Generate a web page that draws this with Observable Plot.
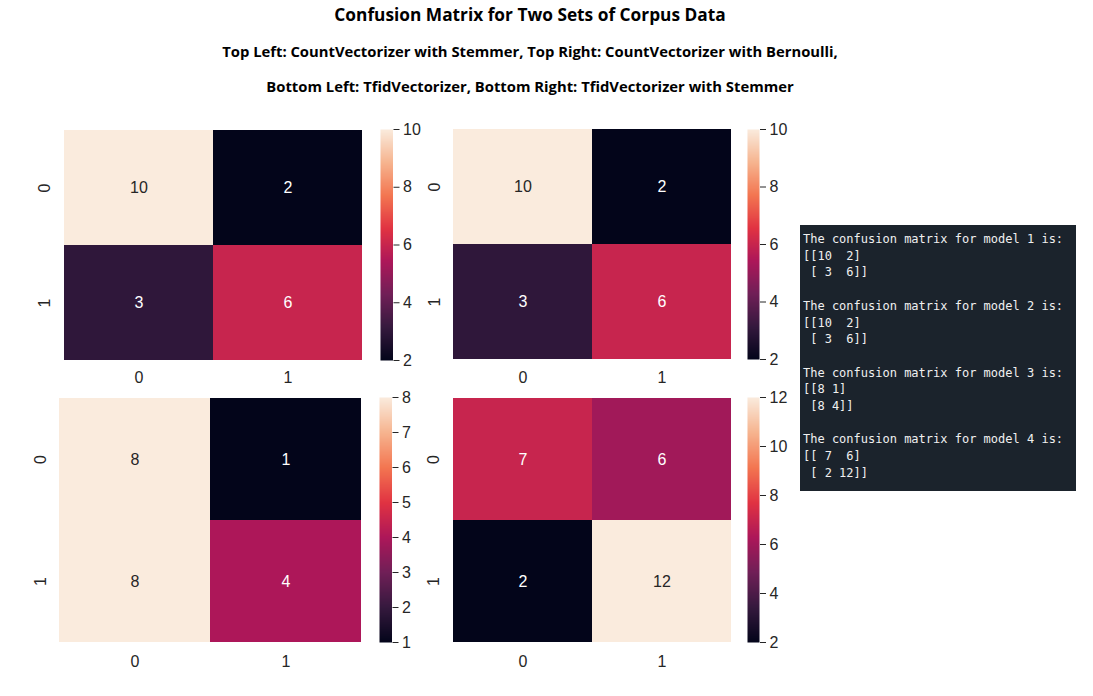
<!DOCTYPE html>
<html><head><meta charset="utf-8">
<script src="https://cdn.jsdelivr.net/npm/d3@7"></script>
<script src="https://cdn.jsdelivr.net/npm/@observablehq/plot@0.6"></script>
<style>
body{margin:0;background:#fff;}
#root{position:relative;width:1093px;height:696px;overflow:hidden;background:#fff;}
.abs{position:absolute;}
.ttl{position:absolute;left:0;width:1060px;text-align:center;font-family:"Open Sans",Lato,sans-serif;font-weight:bold;color:#000;white-space:nowrap;font-variant-ligatures:none;}
#console{position:absolute;left:800px;top:225px;width:276px;height:266px;background:#1b232c;color:#f0f0f0;font-family:"DejaVu Sans Mono",monospace;font-size:12px;line-height:16.7px;white-space:pre;padding:6px 0 0 3px;box-sizing:border-box;}
</style></head><body><div id="root"></div>
<script>
// ---- data ----
const titleText = "Confusion Matrix for Two Sets of Corpus Data";
const subtitleLines = [
  "Top Left: CountVectorizer with Stemmer, Top Right: CountVectorizer with Bernoulli,",
  "Bottom Left: TfidVectorizer, Bottom Right: TfidVectorizer with Stemmer"
];
const rowLabels = ["0", "1"];
const colLabels = ["0", "1"];
const model1 = [[10, 2], [3, 6]];
const model2 = [[10, 2], [3, 6]];
const model3 = [[8, 1], [8, 4]];
const model4 = [[7, 6], [2, 12]];
const cbarTicks1 = [2, 4, 6, 8, 10];
const cbarTicks2 = [2, 4, 6, 8, 10];
const cbarTicks3 = [1, 2, 3, 4, 5, 6, 7, 8];
const cbarTicks4 = [2, 4, 6, 8, 10, 12];
const consoleLabel = n => `The confusion matrix for model ${n} is:`;
// rocket colormap anchor colours
const rocketStops = ["#03051a", "#35193e", "#701f57", "#ad1759", "#e13342", "#f37651", "#f6b48f", "#faebdd"];

// ---- helpers ----
const rocket = d3.piecewise(d3.interpolateRgb, rocketStops);
function luminance(c) {
  const r = d3.rgb(c);
  const f = v => { v /= 255; return v <= 0.03928 ? v / 12.92 : Math.pow((v + 0.055) / 1.055, 2.4); };
  return 0.2126 * f(r.r) + 0.7152 * f(r.g) + 0.0722 * f(r.b);
}
const root = document.getElementById("root");
function place(el, left, top) {
  el.classList.add("abs");
  el.style.left = left + "px";
  el.style.top = top + "px";
  root.appendChild(el);
}
const tickFont = "Liberation Sans, Arial, sans-serif";

function panel(matrix, ticks, heat, cb, xPad) {
  const cells = [];
  matrix.forEach((row, i) => row.forEach((v, j) => cells.push({row: rowLabels[i], col: colLabels[j], value: v})));
  const [lo, hi] = d3.extent(cells, d => d.value);
  const color = {type: "linear", domain: [lo, hi], interpolate: rocket};
  const sc = d3.scaleSequential(rocket).domain([lo, hi]);
  const light = cells.filter(d => luminance(sc(d.value)) > 0.408);
  const dark = cells.filter(d => luminance(sc(d.value)) <= 0.408);
  const ml = 40, mb = 40;
  const w = heat.x2 - heat.x1, h = heat.y2 - heat.y1;
  const hp = Plot.plot({
    width: w + ml, height: h + mb,
    marginLeft: ml, marginBottom: mb, marginTop: 0, marginRight: 0,
    x: {domain: colLabels, padding: 0, label: null},
    y: {domain: rowLabels, padding: 0, label: null},
    color,
    style: {fontFamily: tickFont, fontSize: "16px", color: "#262626", background: "transparent", overflow: "visible"},
    marks: [
      Plot.cell(cells, {x: "col", y: "row", fill: "value", inset: 0}),
      Plot.text(light, {x: "col", y: "row", text: d => String(d.value), fill: "#262626", fontSize: 16}),
      Plot.text(dark, {x: "col", y: "row", text: d => String(d.value), fill: "#ffffff", fontSize: 16}),
      Plot.axisX({tickSize: 0, tickPadding: xPad, label: null, fontSize: 16}),
      Plot.axisY({tickSize: 0, tickPadding: 14, tickRotate: -90, label: null, fontSize: 16})
    ]
  });
  place(hp, heat.x1 - ml, heat.y1);

  const cw = cb.x2 - cb.x1;
  const mt = 10, mr = 40;
  const cp = Plot.plot({
    width: cw + mr, height: h + 2 * mt,
    marginLeft: 0, marginRight: mr, marginTop: mt, marginBottom: mt,
    x: {domain: [0, 1], axis: null},
    y: {domain: [lo, hi], label: null},
    color,
    style: {fontFamily: tickFont, fontSize: "16px", color: "#262626", background: "transparent", overflow: "visible"},
    marks: [
      Plot.raster({x1: 0, x2: 1, y1: lo, y2: hi, width: 1, height: h, fill: (x, y) => y, imageRendering: "auto"}),
      Plot.axisY({anchor: "right", ticks, tickSize: 6, tickPadding: 4, label: null, fontSize: 16, tickFormat: d => String(d)})
    ]
  });
  place(cp, cb.x1, heat.y1 - mt);
}

// ---- titles ----
function addTitle(text, top, size) {
  const d = document.createElement("div");
  d.className = "ttl";
  d.style.top = top + "px";
  d.style.fontSize = size + "px";
  d.style.lineHeight = "20px";
  d.textContent = text;
  root.appendChild(d);
}
addTitle(titleText, 5, 17.3);
addTitle(subtitleLines[0], 41, 14.8);
addTitle(subtitleLines[1], 76, 14.8);

// ---- panels ----
panel(model1, cbarTicks1, {x1: 63, x2: 362, y1: 129, y2: 360}, {x1: 380, x2: 392.5}, 11);
panel(model2, cbarTicks2, {x1: 452.5, x2: 731, y1: 129, y2: 359}, {x1: 747, x2: 759}, 12);
panel(model3, cbarTicks3, {x1: 59, x2: 361, y1: 397, y2: 642}, {x1: 378.5, x2: 391}, 13);
panel(model4, cbarTicks4, {x1: 452, x2: 731, y1: 397, y2: 642}, {x1: 747, x2: 759}, 13);

// ---- console box ----
function fmtMatrix(m) {
  const wdt = d3.max(m.flat(), v => String(v).length);
  return m.map((row, i) => (i === 0 ? "[[" : " [") + row.map(v => String(v).padStart(wdt)).join(" ") + (i === m.length - 1 ? "]]" : "]")).join("\n");
}
const con = document.createElement("div");
con.id = "console";
con.textContent = [model1, model2, model3, model4].map((m, i) => consoleLabel(i + 1) + "\n" + fmtMatrix(m)).join("\n\n");
root.appendChild(con);
</script>
</body></html>
